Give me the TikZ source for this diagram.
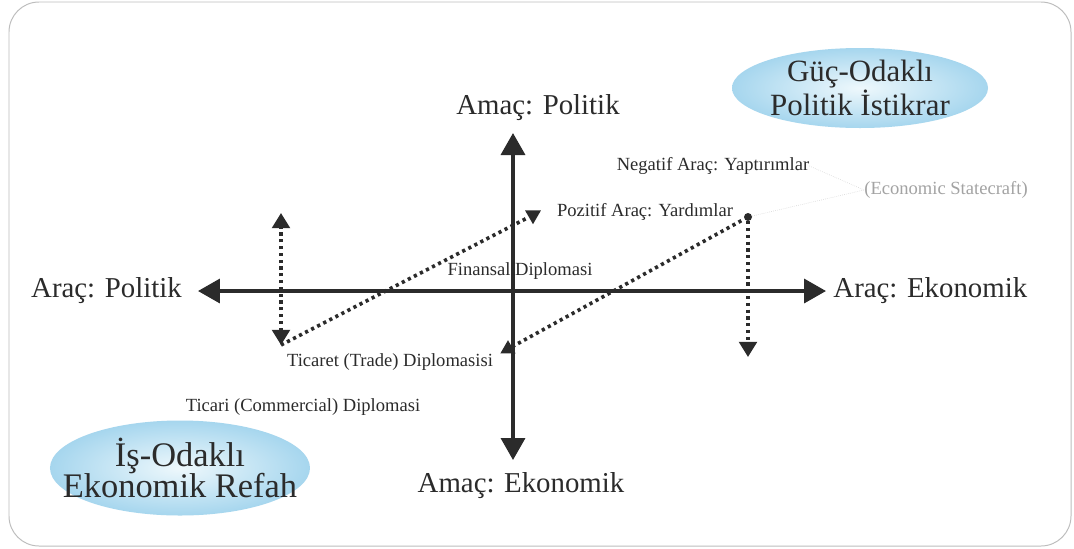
\documentclass[tikz,border=0pt]{standalone}
\usepackage{fontspec}
\setmainfont{Liberation Serif}
\usetikzlibrary{arrows.meta,positioning,shapes.geometric}
\definecolor{ink}{HTML}{2B2B2B}
\definecolor{frame}{HTML}{BDBDBD}
\definecolor{note}{HTML}{A3A3A3}
\definecolor{hintline}{HTML}{CFCFCF}
\definecolor{skyin}{HTML}{EEF8FC}
\definecolor{skyout}{HTML}{A6D6EE}

\begin{document}
\begin{tikzpicture}[text=ink]
  \tikzset{axis/.style={draw=ink,line width=0.09cm,{Triangle[length=0.55cm,width=0.6cm]}-{Triangle[length=0.55cm,width=0.6cm]}},
    axislabel/.style={font=\fontsize{20.5}{24}\selectfont,inner sep=0pt},
    item/.style={font=\fontsize{13.2}{16}\selectfont,inner sep=0pt},
    track/.style={draw=ink,line width=0.09cm,dash pattern=on 0.08cm off 0.09cm},
    tracktip/.style={-{Triangle[length=0.38cm,width=0.44cm]}},
    hint/.style={draw=hintline,line width=0.4pt,densely dotted},
    downmark/.style={regular polygon,regular polygon sides=3,shape border rotate=180,fill=ink,inner sep=0pt,minimum size=0.46cm},
    upmark/.style={regular polygon,regular polygon sides=3,fill=ink,inner sep=0pt,minimum size=0.44cm},
    dotmark/.style={circle,fill=ink,inner sep=0pt,minimum size=0.2cm},
    goal/.style={ellipse,inner color=skyin,outer color=skyout,align=center,inner xsep=-8mm,inner ysep=-3mm}}

  \useasboundingbox (-12.825,-6.425) rectangle (14.025,7.275);
  \draw[frame,fill=white,rounded corners=0.75cm,line width=0.7pt] (-12.6,-6.375) rectangle (13.95,7.225);

  \node[goal,minimum width=6.4cm,minimum height=2.0cm,font=\fontsize{22}{21.5}\selectfont] (guc) at (8.675,5.075) {Güç-Odaklı\\Politik İstikrar};
  \node[goal,minimum width=6.5cm,minimum height=2.375cm,font=\fontsize{24.5}{22.5}\selectfont] (is) at (-8.325,-4.425) {İş-Odaklı\\Ekonomik Refah};

  \coordinate (west) at (-7.875,0);
  \coordinate (east) at (7.825,0);
  \coordinate (north) at (0,3.95);
  \coordinate (south) at (0,-4.225);
  \draw[axis] (west) -- (east);
  \draw[axis] (south) -- (north);

  \node[axislabel,left=0.4cm of west] (aracpol) {Araç: Politik};
  \node[axislabel,right=0.18cm of east] (araceko) {Araç: Ekonomik};
  \node[axislabel,above=0.3cm of north,xshift=0.625cm] (amacpol) {Amaç: Politik};
  \node[axislabel,below=0.3cm of south,xshift=0.2cm] (amaceko) {Amaç: Ekonomik};

  \node[item] (finans) at (0.175,0.5) {Finansal Diplomasi};
  \node[item] (ticaret) at (-3.075,-1.775) {Ticaret (Trade) Diplomasisi};
  \node[item] (ticari) at (-5.25,-2.9) {Ticari (Commercial) Diplomasi};
  \node[item] (negatif) at (5.0,3.125) {Negatif Araç: Yaptırımlar};
  \node[item] (pozitif) at (3.3,1.975) {Pozitif Araç: Yardımlar};
  \node[item,text=note] (statecraft) at (10.825,2.525) {(Economic Statecraft)};

  \coordinate (ltop) at (-5.8,1.95);
  \coordinate (lbot) at (-5.8,-1.35);
  \coordinate (rbot) at (5.875,-1.65);
  \node[downmark] (mk1) at (0.5,1.9) {};
  \node[upmark] (mk2) at (-0.125,-1.45) {};
  \node[dotmark] (hub) at (5.875,1.85) {};

  \draw[track,{Triangle[length=0.38cm,width=0.44cm]}-{Triangle[length=0.38cm,width=0.44cm]}] (lbot) -- (ltop);
  \draw[track] (lbot) -- (mk1);
  \draw[track] (mk2) -- (hub);
  \draw[track,tracktip] (hub) -- (rbot);

  \draw[hint] (negatif.east) -- (statecraft.west);
  \draw[hint] (hub) -- (statecraft.west);
\end{tikzpicture}
\end{document}
